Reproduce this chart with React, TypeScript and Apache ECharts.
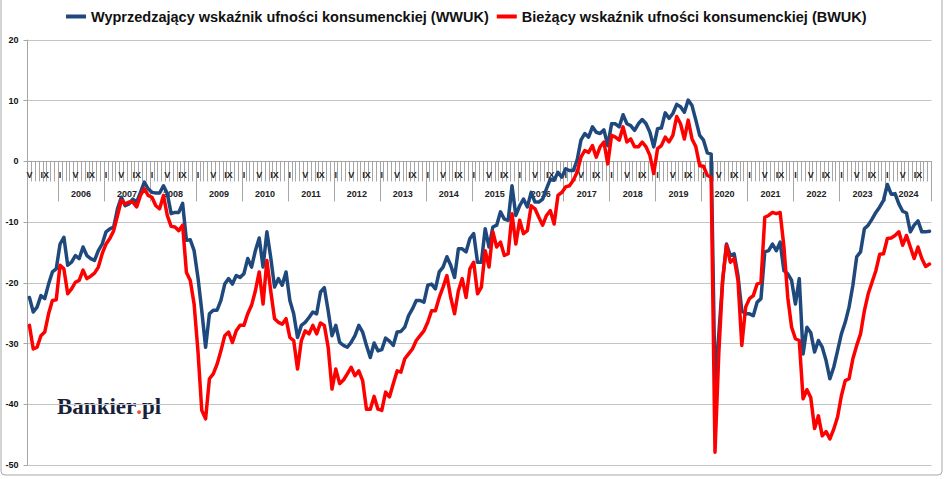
import React, { useEffect, useRef } from "react";
import * as echarts from "echarts";

// ---- data ----
const START_YEAR = 2005;
const START_MONTH = 5; // May 2005
const ROMAN = ["I", "II", "III", "IV", "V", "VI", "VII", "VIII", "IX", "X", "XI", "XII"];
const SHOWN_MONTHS = [1, 5, 9];
const FIRST_LABELLED_YEAR = 2006;
const Y_MIN = -50;
const Y_MAX = 20;
const Y_STEP = 10;

const SERIES_NAMES = [
  "Wyprzedzający wskaźnik ufności konsumenckiej (WWUK)",
  "Bieżący wskaźnik ufności konsumenckiej (BWUK)",
];

// Wyprzedzający wskaźnik ufności konsumenckiej (WWUK), monthly from V 2005
const wwuk = [
  -22.4, -24.8, -24.0, -22.1, -22.6, -20.2, -18.2, -17.7,
  -13.6, -12.5, -17.1, -16.6, -15.5, -16.0, -14.1, -15.5, -16.0, -16.3, -14.7, -13.6,
  -11.6, -11.1, -10.8, -7.8, -5.9, -7.3, -7.0, -6.2, -6.7, -5.1, -3.4, -4.5,
  -5.1, -5.2, -5.2, -4.0, -5.3, -8.6, -8.4, -8.4, -6.9, -13.0, -12.9, -14.7,
  -19.1, -24.6, -30.6, -25.1, -24.5, -24.5, -22.9, -20.2, -19.3, -20.2, -18.8, -19.1,
  -18.5, -16.0, -17.4, -14.7, -12.6, -17.4, -11.6, -15.8, -20.7, -19.3, -20.4, -18.2,
  -22.9, -25.1, -29.0, -27.0, -26.5, -25.7, -24.8, -25.1, -21.5, -20.8, -24.6, -28.7,
  -27.0, -29.8, -30.3, -30.6, -29.8, -28.7, -27.0, -28.1, -30.3, -32.3, -29.9, -31.2,
  -31.0, -29.1, -29.6, -30.3, -28.1, -28.0, -27.3, -25.4, -24.3, -22.9, -22.9, -23.2,
  -20.4, -20.2, -21.0, -18.2, -17.4, -15.7, -17.1, -19.1, -14.4, -14.4, -14.9, -12.7,
  -11.9, -16.6, -16.6, -11.1, -14.1, -10.8, -10.5, -8.3, -9.5, -9.7, -4.0, -8.9,
  -7.3, -6.2, -7.5, -5.1, -6.7, -6.7, -6.2, -4.5, -2.9, -3.1, -1.8, -2.6,
  -1.2, -1.5, -1.5, 0.2, 3.5, 4.6, 4.0, 5.7, 4.8, 4.6, 5.2, 2.6,
  6.2, 6.2, 5.7, 7.7, 6.2, 5.9, 5.1, 6.2, 6.9, 6.2, 4.8, 2.4,
  5.4, 5.5, 8.0, 7.1, 7.9, 9.4, 9.0, 8.1, 10.1, 9.2, 6.8, 4.3,
  3.5, 1.4, 1.2, -36.6, -28.4, -19.6, -13.6, -15.5, -15.2, -18.8, -24.6, -25.1,
  -25.1, -25.4, -23.2, -22.6, -14.9, -14.7, -13.6, -14.7, -13.3, -18.0, -18.5, -19.6,
  -23.5, -19.3, -31.7, -27.3, -28.2, -31.4, -29.5, -30.6, -32.8, -35.8, -33.9, -31.2,
  -28.4, -26.5, -24.0, -20.4, -15.7, -14.9, -11.1, -10.5, -9.5, -8.4, -7.5, -6.4,
  -3.8, -5.4, -5.3, -7.0, -8.2, -8.5, -11.6, -10.5, -9.8, -11.6, -11.6, -11.5,
];

// Bieżący wskaźnik ufności konsumenckiej (BWUK), monthly from V 2005
const bwuk = [
  -27.0, -30.9, -30.6, -28.7, -28.1, -25.1, -22.9, -22.8,
  -17.1, -17.7, -21.8, -21.0, -19.9, -19.6, -17.9, -19.3, -18.9, -18.4, -17.4, -15.2,
  -13.6, -12.7, -11.4, -8.9, -6.4, -7.0, -6.7, -6.7, -7.5, -5.6, -4.5, -5.6,
  -5.9, -7.3, -7.8, -5.6, -8.9, -10.7, -10.8, -11.4, -10.5, -18.3, -19.6, -23.5,
  -31.2, -41.0, -42.4, -35.8, -35.0, -33.4, -31.2, -28.7, -28.1, -29.8, -27.9, -27.0,
  -27.0, -25.1, -23.7, -21.3, -18.2, -23.5, -16.3, -21.3, -25.9, -26.5, -26.8, -25.9,
  -29.0, -29.5, -34.2, -29.5, -27.9, -28.4, -27.0, -28.4, -26.6, -27.0, -30.6, -37.5,
  -34.2, -36.6, -36.0, -35.0, -33.9, -35.3, -34.5, -36.1, -40.8, -40.8, -38.7, -40.8,
  -41.0, -38.0, -38.8, -36.6, -34.5, -34.7, -32.5, -31.7, -30.9, -29.5, -28.7, -27.9,
  -26.5, -24.6, -24.6, -22.4, -20.7, -18.8, -22.4, -25.1, -21.3, -19.3, -22.4, -17.7,
  -16.6, -21.8, -20.7, -14.7, -17.4, -11.6, -14.1, -13.3, -15.5, -15.2, -8.6, -13.6,
  -9.7, -11.9, -11.4, -7.3, -7.8, -9.2, -10.5, -8.9, -8.1, -10.3, -5.6, -5.1,
  -4.2, -4.0, -3.1, -1.8, 0.7, 1.8, 1.5, 2.6, 0.7, 2.4, 3.2, -0.4,
  4.3, 4.0, 3.5, 5.7, 3.2, 3.7, 2.4, 2.4, 3.2, 2.4, 1.0, -2.0,
  2.1, 2.6, 4.0, 3.2, 4.3, 7.4, 6.2, 3.7, 6.8, 3.7, 2.4, -0.7,
  -0.8, -2.3, -2.6, -47.9, -31.5, -19.5, -13.8, -16.6, -16.0, -19.6, -30.3, -24.0,
  -22.6, -22.1, -20.2, -19.9, -9.2, -8.9, -8.4, -8.6, -8.4, -14.1, -22.4, -27.3,
  -29.2, -29.5, -39.1, -37.6, -38.9, -44.0, -41.9, -45.2, -44.5, -45.7, -44.1, -42.1,
  -38.6, -36.1, -35.8, -32.5, -30.3, -28.4, -24.6, -21.8, -19.9, -18.0, -15.3, -15.2,
  -12.7, -12.6, -12.2, -11.6, -13.8, -12.2, -14.1, -16.0, -14.1, -16.0, -17.3, -16.9,
];

// month categories "YYYY-MM"
const categories: string[] = wwuk.map((_, i) => {
  const t = START_MONTH - 1 + i;
  const y = START_YEAR + Math.floor(t / 12);
  const m = (t % 12) + 1;
  return `${y}-${String(m).padStart(2, "0")}`;
});

const monthOf = (c: string) => parseInt(c.slice(5), 10);
const yearOf = (c: string) => parseInt(c.slice(0, 4), 10);

const BLUE = "#1F497D";
const RED = "#FF0000";
const AXIS_GRAY = "#a6a6a6";
const GRID_GRAY = "#c4c4c4";
const FONT = "Liberation Sans, Arial, sans-serif";

const W = 948;
const H = 479;
const GRID_TOP = 40;
const GRID_BOTTOM = 14;
const PLOT_H = H - GRID_TOP - GRID_BOTTOM;
// move the category axis from the plot bottom up to the value 0
const ZERO_OFFSET = -((0 - Y_MIN) / (Y_MAX - Y_MIN)) * PLOT_H;

export default function App() {
  const ref = useRef<HTMLDivElement>(null);

  useEffect(() => {
    if (!ref.current) return;
    const chart = echarts.init(ref.current, undefined, { renderer: "svg" });
    chart.setOption({
      animation: false,
      backgroundColor: "#ffffff",
      textStyle: { fontFamily: FONT },
      legend: {
        left: 61,
        top: 4,
        itemWidth: 20,
        itemHeight: 4,
        itemGap: 8,
        icon: "rect",
        textStyle: { fontFamily: FONT, fontSize: 14.5, fontWeight: "bold", color: "#111" },
        data: SERIES_NAMES,
      },
      grid: {
        left: 27.5,
        right: 16.6,
        top: GRID_TOP,
        bottom: GRID_BOTTOM,
        containLabel: false,
        outerBoundsMode: "none",
      },
      xAxis: [
        {
          type: "category",
          data: categories,
          position: "bottom",
          offset: ZERO_OFFSET,
          boundaryGap: true,
          axisLine: { show: true, onZero: false, lineStyle: { color: AXIS_GRAY, width: 1 } },
          axisTick: { show: true, interval: 0, length: 20, lineStyle: { color: AXIS_GRAY, width: 1 } },
          axisLabel: {
            interval: 0,
            margin: 9,
            fontSize: 9,
            fontWeight: "bold",
            color: "#222",
            fontFamily: FONT,
            formatter: (v: string) => {
              const m = monthOf(v);
              return SHOWN_MONTHS.includes(m) ? ROMAN[m - 1] : "";
            },
          },
          splitLine: { show: false },
        },
        {
          type: "category",
          data: categories,
          position: "bottom",
          offset: ZERO_OFFSET,
          boundaryGap: true,
          axisLine: { show: false, onZero: false },
          axisTick: {
            show: true,
            length: 40,
            interval: (_i: number, v: string) => monthOf(v) === 1,
            lineStyle: { color: AXIS_GRAY, width: 1 },
          },
          axisLabel: {
            interval: 0,
            margin: 28,
            fontSize: 9,
            fontWeight: "bold",
            color: "#222",
            fontFamily: FONT,
            padding: [0, 0, 0, 3.8],
            formatter: (v: string) => {
              const y = yearOf(v);
              return monthOf(v) === 6 && y >= FIRST_LABELLED_YEAR ? String(y) : "";
            },
          },
          splitLine: { show: false },
        },
      ],
      yAxis: {
        type: "value",
        min: Y_MIN,
        max: Y_MAX,
        interval: Y_STEP,
        axisLine: { show: true, lineStyle: { color: AXIS_GRAY, width: 1 } },
        axisTick: { show: true, length: 4, lineStyle: { color: AXIS_GRAY } },
        axisLabel: { margin: 9, fontSize: 9, fontWeight: "bold", color: "#111", fontFamily: FONT },
        splitLine: { show: true, lineStyle: { color: GRID_GRAY, width: 1 } },
      },
      series: [
        {
          name: SERIES_NAMES[0],
          type: "line",
          data: wwuk,
          xAxisIndex: 0,
          showSymbol: false,
          symbol: "none",
          color: BLUE,
          lineStyle: { color: BLUE, width: 3.5, cap: "round", join: "round" },
          z: 3,
        },
        {
          name: SERIES_NAMES[1],
          type: "line",
          data: bwuk,
          xAxisIndex: 0,
          showSymbol: false,
          symbol: "none",
          color: RED,
          lineStyle: { color: RED, width: 3.5, cap: "round", join: "round" },
          z: 4,
        },
      ],
      graphic: [
        {
          type: "rect",
          silent: true,
          z: -1,
          shape: { x: 1, y: -4, width: 941, height: 479, r: 4 },
          style: { fill: "none", stroke: "#a8a8a8", lineWidth: 1 },
        },
        {
          type: "text",
          silent: true,
          x: 57,
          y: 406,
          style: {
            text: "Bankier{d|.}pl",
            font: "bold 23px 'Liberation Serif', 'Times New Roman', serif",
            fill: "#17213a",
            verticalAlign: "middle",
            rich: {
              d: { fill: "#e9552b", font: "bold 23px 'Liberation Serif', 'Times New Roman', serif" },
            },
          },
        },
      ],
    });
    return () => chart.dispose();
  }, []);

  return (
    <div
      ref={ref}
      style={{ position: "absolute", left: 0, top: 0, width: W, height: H, background: "#fff" }}
    />
  );
}
